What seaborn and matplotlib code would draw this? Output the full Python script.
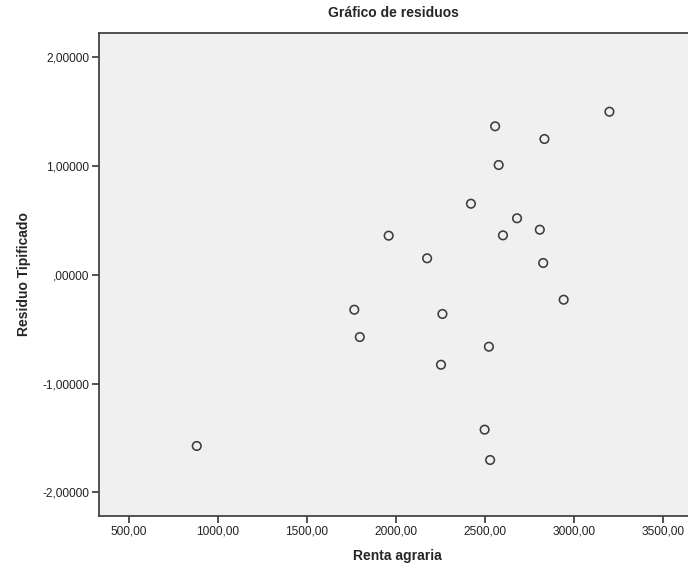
import matplotlib
matplotlib.use("Agg")
import matplotlib.pyplot as plt
import seaborn as sns
import pandas as pd
from matplotlib.ticker import FuncFormatter

renta_agraria = [882, 1767, 1798, 1960, 2176, 2254, 2262, 2422, 2499, 2523,
                 2530, 2558, 2578, 2602, 2681, 2809, 2828, 2835, 2943, 3200]
residuo_tipificado = [-1.574, -0.321, -0.572, 0.360, 0.152, -0.827, -0.360, 0.654, -1.424, -0.661,
                      -1.703, 1.366, 1.010, 0.363, 0.520, 0.415, 0.109, 1.249, -0.229, 1.500]
x_ticks = [500, 1000, 1500, 2000, 2500, 3000, 3500]
y_ticks = [-2, -1, 0, 1, 2]

df = pd.DataFrame({"Renta agraria": renta_agraria, "Residuo Tipificado": residuo_tipificado})

sns.set_style("white")
plt.rcParams['font.family'] = ['Liberation Sans', 'DejaVu Sans']

fig = plt.figure(figsize=(6.88, 5.69), dpi=100)
ax = fig.add_axes([99/688, 1 - 516/569, 1.0 - 99/688 + 0.01, (516 - 33)/569])
ax.set_facecolor("#F0F0F0")

sns.scatterplot(data=df, x="Renta agraria", y="Residuo Tipificado", ax=ax,
                marker="o", s=38, facecolor="none", edgecolor="#3c3c3c", linewidth=1.15)

ax.set_xlim(333, 3680)
ax.set_ylim(-2.218, 2.224)
ax.set_xticks(x_ticks)
ax.set_yticks(y_ticks)


def fmt_x(v, pos):
    return f"{v:.2f}".replace(".", ",")


def fmt_y(v, pos):
    s = f"{v:.5f}".replace(".", ",")
    if s.startswith("0,"):
        s = s[1:]
    if s.startswith("-0,") and abs(v) < 1e-9:
        s = s[2:]
    return s


ax.xaxis.set_major_formatter(FuncFormatter(fmt_x))
ax.yaxis.set_major_formatter(FuncFormatter(fmt_y))

ax.tick_params(axis="both", which="major", direction="out", length=5, width=1.3,
               color="#444444", labelsize=8.6, labelcolor="#222222", pad=2, left=True, bottom=True)

for side in ["left", "bottom", "top"]:
    ax.spines[side].set_visible(True)
    ax.spines[side].set_color("#444444")
    ax.spines[side].set_linewidth(1.3)
ax.spines["right"].set_visible(False)

ax.set_xlabel("Renta agraria", fontsize=10, fontweight="bold", labelpad=8)
ax.set_ylabel("Residuo Tipificado", fontsize=10, fontweight="bold", labelpad=8)
fig.text(393 / 688, 1 - 13 / 569, "Gráfico de residuos", ha="center", va="center",
         fontsize=10, fontweight="bold")

fig.savefig("out.png", dpi=100, facecolor="white")
